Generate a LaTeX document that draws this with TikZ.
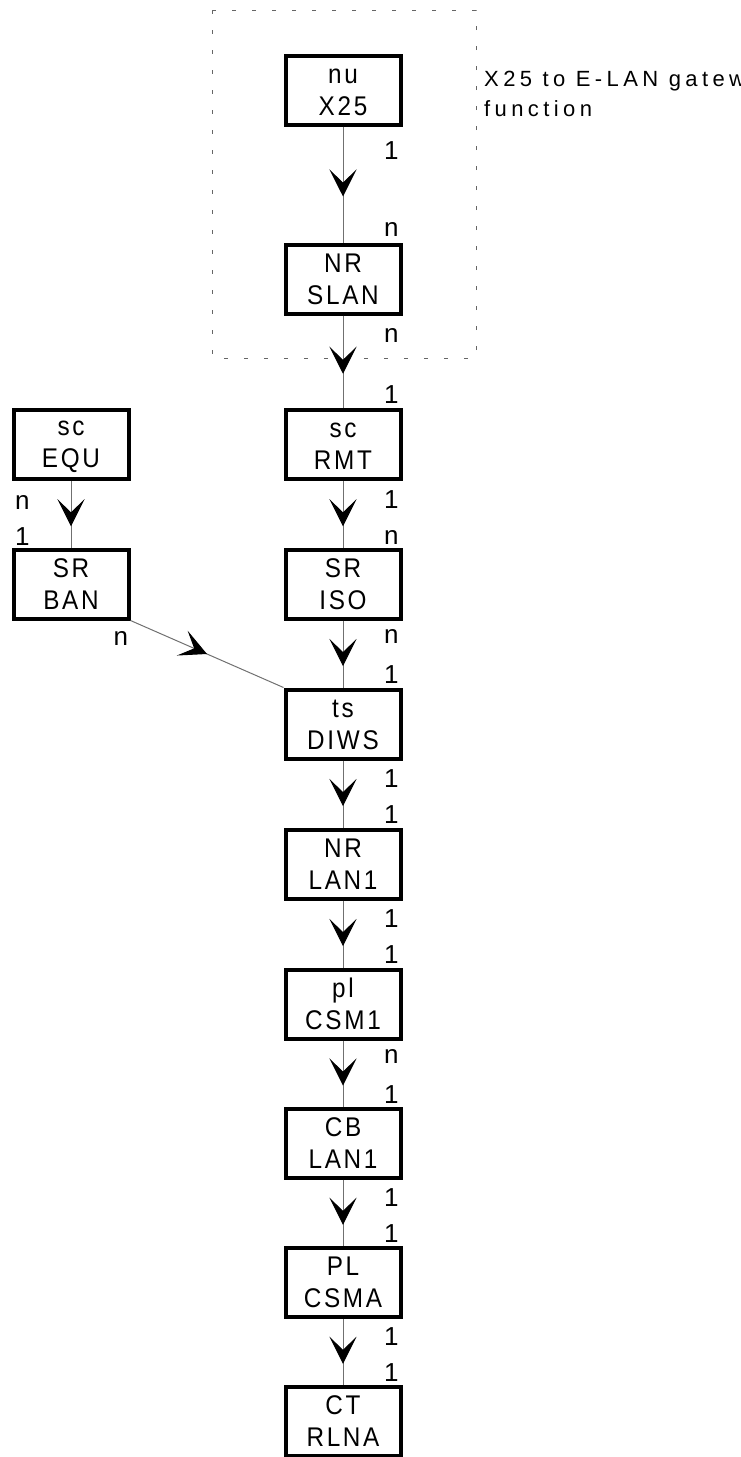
\documentclass[tikz,border=0pt]{standalone}
\usepackage{fontspec}
\setmainfont{Liberation Sans}[LetterSpace=20]
\newfontfamily\boxfont{Liberation Sans}[FakeStretch=0.9,LetterSpace=10]
\usetikzlibrary{arrows.meta,decorations.markings}
\definecolor{linegray}{HTML}{707070}
\definecolor{framegray}{HTML}{666666}
\newcommand{\enttext}[2]{\vphantom{X}#1\\#2}

\begin{document}
\begin{tikzpicture}[
		x=1pt, y=1pt,
		entity/.style={
			draw,
			line width=4pt,
			minimum width=115pt,
			minimum height=69pt,
			inner sep=0pt,
			align=center,
			font=\boxfont\fontsize{27}{32}\selectfont
		},
		card/.style={inner sep=0pt, font=\fontsize{26}{26}\selectfont},
		srccard/.style={card, anchor=north east, xshift=56pt},
		tgtcard/.style={card, anchor=south east, xshift=56pt},
		chev/.tip={Stealth[length=27pt,width=27pt,inset=13pt,color=black]},
		flow/.style={
			draw=linegray,
			line width=1pt,
			postaction=decorate,
			decoration={markings,
				mark=at position 0.5 with {\pgftransformxshift{#1}\arrow{chev}}}
		},
		flow/.default=12pt
	]
	\useasboundingbox (0,0) rectangle (740,-1457);

	\draw[
		framegray,
		line width=1pt,
		dash pattern=on 4pt off 16pt
	]
		(212,-10) rectangle (476,-358);
	\node[
		anchor=north west,
		align=left,
		inner sep=0pt,
		font=\fontsize{22}{30}\selectfont
	] (gwnote) at (484,-71) {X25 to E-LAN gateway\\function};

	\node[entity] (nuX25) at (343,-90) {\enttext{nu}{X25}};
	\node[entity] (nrSLAN) at (343,-279) {\enttext{NR}{SLAN}};
	\node[entity] (scRMT) at (343,-444.5) {\enttext{sc}{RMT}};
	\node[entity] (srISO) at (343,-584) {\enttext{SR}{ISO}};
	\node[entity] (tsDIWS) at (343,-724) {\enttext{ts}{DIWS}};
	\node[entity] (nrLAN) at (343,-864) {\enttext{NR}{LAN1}};
	\node[entity] (plCSM) at (343,-1004) {\enttext{pl}{CSM1}};
	\node[entity] (cbLAN) at (343,-1143) {\enttext{CB}{LAN1}};
	\node[entity] (plCSMA) at (343,-1282.5) {\enttext{PL}{CSMA}};
	\node[entity] (ctRLNA) at (343,-1421) {\enttext{CT}{RLNA}};
	\node[entity] (scEQU) at (71,-444.5) {\enttext{sc}{EQU}};
	\node[entity] (srBAN) at (71,-584) {\enttext{SR}{BAN}};

	\draw[flow] (nuX25.south) --
		node[srccard, pos=0.13] (cA1) {1}
		node[tgtcard, pos=0.955] (cA2) {n}
		(nrSLAN.north);
	\draw[flow] (nrSLAN.south) --
		node[srccard, pos=0.13] (cB1) {n}
		node[tgtcard, pos=0.955] (cB2) {1}
		(scRMT.north);
	\draw[flow] (scRMT.south) --
		node[srccard, pos=0.13] (cC1) {1}
		node[tgtcard, pos=0.955] (cC2) {n}
		(srISO.north);
	\draw[flow] (srISO.south) --
		node[srccard, pos=0.13] (cD1) {n}
		node[tgtcard, pos=0.955] (cD2) {1}
		(tsDIWS.north);
	\draw[flow] (tsDIWS.south) --
		node[srccard, pos=0.13] (cE1) {1}
		node[tgtcard, pos=0.955] (cE2) {1}
		(nrLAN.north);
	\draw[flow] (nrLAN.south) --
		node[srccard, pos=0.13] (cF1) {1}
		node[tgtcard, pos=0.955] (cF2) {1}
		(plCSM.north);
	\draw[flow] (plCSM.south) --
		node[srccard, pos=0.13] (cG1) {n}
		node[tgtcard, pos=0.955] (cG2) {1}
		(cbLAN.north);
	\draw[flow] (cbLAN.south) --
		node[srccard, pos=0.13] (cH1) {1}
		node[tgtcard, pos=0.955] (cH2) {1}
		(plCSMA.north);
	\draw[flow] (plCSMA.south) --
		node[srccard, pos=0.13] (cI1) {1}
		node[tgtcard, pos=0.955] (cI2) {1}
		(ctRLNA.north);
	\draw[flow] (scEQU.south) --
		node[card, anchor=north east, xshift=-41pt, pos=0.21] (cJ1) {n}
		node[card, anchor=south east, xshift=-41pt, pos=0.97] (cJ2) {1}
		(srBAN.north);
	\draw[flow=0pt] (srBAN.south east) --
		node[card, anchor=north east, xshift=-2pt, yshift=-10pt, at start] (cK1) {n}
		(tsDIWS.north west);
\end{tikzpicture}
\end{document}
